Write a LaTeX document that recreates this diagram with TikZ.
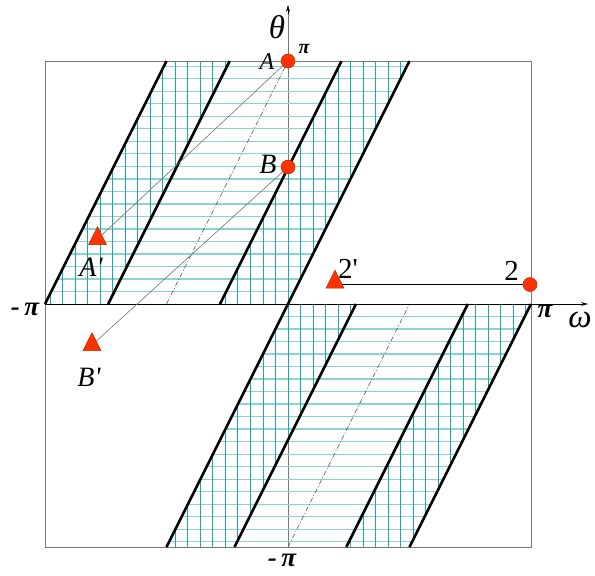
\documentclass[tikz,border=0pt]{standalone}
\usepackage{fontspec}
\setmainfont{Liberation Serif}
\usetikzlibrary{arrows.meta,shapes.geometric}
\definecolor{hcol}{RGB}{140,212,212}
\definecolor{vcol}{RGB}{30,165,165}
\definecolor{ptfill}{RGB}{255,51,0}
\definecolor{ptdraw}{RGB}{185,40,0}
\definecolor{boxcol}{RGB}{120,120,120}
\begin{document}
\begin{tikzpicture}[x=1pt,y=1pt,
  thickline/.style={line width=2.6pt, black},
  hline/.style={hcol, line width=1.3pt},
  vline/.style={vcol, line width=0.9pt},
  dashline/.style={line width=0.6pt, black!70, dash pattern=on 5pt off 2pt on 1pt off 2pt},
  link/.style={line width=0.6pt, black!55},
  circpt/.style={circle, fill=ptfill, draw=ptdraw, line width=0.5pt, minimum size=14pt, inner sep=0pt},
  tript/.style={isosceles triangle, isosceles triangle stretches, shape border rotate=90,
    minimum width=18pt, minimum height=18pt, inner sep=0pt, fill=ptfill, draw=ptdraw, line width=0.5pt},
  lbl/.style={inner sep=0pt, font=\fontsize{28}{28}\selectfont\itshape},
  numlbl/.style={inner sep=0pt, font=\fontsize{29}{29}\selectfont},
  pilbl/.style={inner sep=0pt, font=\fontsize{27}{27}\selectfont\bfseries\itshape},
  axlbl/.style={inner sep=0pt, font=\fontsize{33}{33}\selectfont\itshape}]
\useasboundingbox (0,0) rectangle (595,-576);
% theta axis (under hatch)
\draw[boxcol, line width=0.8pt] (288,-547) -- (288,-12);
\draw[-{Stealth[length=7pt,width=4pt]}, black, line width=0.6pt] (288,-14) -- (288,-5);
\begin{scope}[shift={(288,-304)}, x=243pt, y=243pt]
  % upper band horizontal hatch
  \begin{scope}
    \clip (-1,0)--(0,0)--(0.5,1)--(-0.5,1)--cycle;
    \foreach \k in {1,...,19} \draw[hline] (-1,\k*0.0515) -- (1,\k*0.0515);
  \end{scope}
  % lower band horizontal hatch
  \begin{scope}
    \clip (0,0)--(1,0)--(0.5,-1)--(-0.5,-1)--cycle;
    \foreach \k in {1,...,19} \draw[hline] (-1,-\k*0.0515) -- (1,-\k*0.0515);
  \end{scope}
  % vertical hatch strips
  \begin{scope}
    \clip (-1,0)--(-0.74,0)--(-0.24,1)--(-0.5,1)--cycle;
    \foreach \k in {-20,...,20} \draw[vline] (\k*0.0515,-1) -- (\k*0.0515,1);
  \end{scope}
  \begin{scope}
    \clip (-0.28,0)--(0,0)--(0.5,1)--(0.22,1)--cycle;
    \foreach \k in {-20,...,20} \draw[vline] (\k*0.0515,-1) -- (\k*0.0515,1);
  \end{scope}
  \begin{scope}
    \clip (1,0)--(0.74,0)--(0.24,-1)--(0.5,-1)--cycle;
    \foreach \k in {-20,...,20} \draw[vline] (\k*0.0515,-1) -- (\k*0.0515,1);
  \end{scope}
  \begin{scope}
    \clip (0.28,0)--(0,0)--(-0.5,-1)--(-0.22,-1)--cycle;
    \foreach \k in {-20,...,20} \draw[vline] (\k*0.0515,-1) -- (\k*0.0515,1);
  \end{scope}
  % box
  \draw[boxcol, line width=0.9pt] (-1,-1) rectangle (1,1);
  % thick boundary lines
  \draw[thickline] (-1,0)--(-0.5,1);
  \draw[thickline] (-0.74,0)--(-0.24,1);
  \draw[thickline] (-0.28,0)--(0.22,1);
  \draw[thickline] (0,0)--(0.5,1);
  \draw[thickline] (1,0)--(0.5,-1);
  \draw[thickline] (0.74,0)--(0.24,-1);
  \draw[thickline] (0.28,0)--(-0.22,-1);
  \draw[thickline] (0,0)--(-0.5,-1);
  % dash-dot centre lines
  \draw[dashline] (-0.5,0)--(0,1);
  \draw[dashline] (0,-1)--(0.5,0);
\end{scope}
% omega axis
\draw[-{Stealth[length=7pt,width=4pt]}, black, line width=0.8pt] (45,-304) -- (588,-304);
% points
\node[circpt] (A) at (288,-61) {};
\node[circpt] (B) at (288,-167) {};
\node[circpt] (P2) at (530,-284.5) {};
\node[tript] (Ap) at (97.5,-239) {};
\node[tript] (Bp) at (92,-345) {};
\node[tript] (P2p) at (335,-282.5) {};
% connectors
\draw[link] (A) -- (Ap);
\draw[link] (B) -- (Bp);
\draw[black, line width=0.7pt] (P2p.east |- P2) -- (P2);
% labels
\node[axlbl] (lth) at (277,-27) {θ};
\node[axlbl] (lom) at (580,-320) {ω};
\node[lbl, font=\fontsize{24}{24}\selectfont\itshape] (lA) at (267,-62) {A};
\node[lbl] (lB) at (268,-164) {B};
\node[lbl] (lAp) at (91,-267) {\textit{A}\textquotesingle};
\node[lbl] (lBp) at (89,-377) {\textit{B}\textquotesingle};
\node[numlbl] (l2p) at (348,-269) {2\textquotesingle};
\node[numlbl] (l2) at (511.5,-271) {2};
\node[pilbl, font=\fontsize{20}{20}\selectfont\bfseries\itshape] (lpiA) at (304,-49) {π};
\node[pilbl] (lmpl) at (25,-309) {-\,π};
\node[pilbl] (lpir) at (545,-311) {π};
\node[pilbl] (lmpb) at (282,-560) {-\,π};
\end{tikzpicture}
\end{document}
